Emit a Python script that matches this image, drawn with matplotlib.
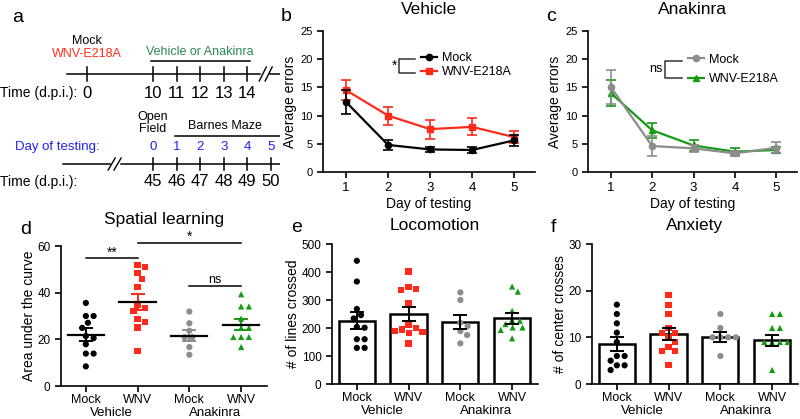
import numpy as np
import matplotlib
matplotlib.use('Agg')
import matplotlib.pyplot as plt
from matplotlib.lines import Line2D

plt.rcParams['font.family'] = ['Liberation Sans', 'DejaVu Sans']

RED = '#ff2a1a'
GREEN = '#149a14'
GRAY = '#8c8c8c'
BLUE = '#2020f0'
TEAL = '#2a8a55'

# ---- panel a: timeline
tl1_labels = ['0', '10', '11', '12', '13', '14']
tl1_slots = [-2.8, 0, 1, 2, 3, 4]
tl2_labels = ['45', '46', '47', '48', '49', '50']
test_labels = ['0', '1', '2', '3', '4', '5']

# ---- panels b / c: Barnes maze errors
days = [1, 2, 3, 4, 5]
veh_mock = [12.4, 4.8, 4.0, 3.9, 5.6]
veh_mock_sem = [2.2, 0.9, 0.5, 0.6, 1.0]
veh_wnv = [14.5, 10.0, 7.6, 8.0, 6.2]
veh_wnv_sem = [1.8, 1.6, 1.7, 1.5, 1.0]
ana_mock = [15.1, 4.6, 4.2, 3.3, 4.3]
ana_mock_sem = [3.0, 1.8, 0.6, 0.4, 1.0]
ana_wnv = [14.0, 7.4, 4.7, 3.6, 3.9]
ana_wnv_sem = [2.3, 1.3, 0.9, 0.6, 0.5]

# ---- panels d / e / f
cat_labels = ['Mock', 'WNV', 'Mock', 'WNV']
group_labels = ['Vehicle', 'Anakinra']

auc = [
    [35.6, 30.0, 30.0, 27.1, 24.9, 21.4, 20.5, 17.9, 13.9, 13.9, 8.4],
    [51.9, 51.1, 48.3, 45.7, 42.3, 34.6, 33.4, 32.0, 28.6, 27.4, 25.1, 15.1],
    [31.9, 26.9, 23.7, 20.9, 20.9, 16.7, 13.4],
    [39.3, 34.1, 34.1, 28.9, 24.9, 24.9, 21.0, 21.0, 21.0, 16.7],
]
auc_mean = [22.0, 36.0, 21.6, 26.3]
auc_sem = [2.7, 3.3, 2.4, 2.5]

lines = [
    [440, 366, 268, 246, 234, 204, 201, 160, 160, 129, 129],
    [402, 346, 338, 336, 288, 210, 201, 195, 189, 187, 181, 145],
    [327, 300, 219, 207, 189, 175, 145],
    [348, 330, 261, 228, 226, 214, 202, 202, 193, 163],
]
lines_mean = [226, 250, 223, 235]
lines_sem = [31, 25, 25, 20]

center = [
    [17, 15, 13, 11, 9, 6, 6, 5, 4, 4, 3],
    [19, 17, 15, 12, 11, 11, 10, 9, 8, 7, 7, 4],
    [15, 12, 10, 10, 10, 10, 6],
    [15, 15, 12, 12, 9, 9, 9, 9, 3],
]
center_mean = [8.6, 10.7, 10.1, 9.4]
center_sem = [1.5, 1.3, 1.1, 1.2]

colors = ['black', RED, GRAY, GREEN]
markers = ['o', 's', 'o', '^']


def swarm(values, dx, dy):
    """Simple beeswarm offsets so markers do not overlap."""
    placed = []
    offs = np.zeros(len(values))
    order = np.argsort(values)[::-1]
    cand = np.arange(0, 1.0, 0.01)
    cand = np.concatenate([[0]] + [[c, -c] for c in cand[1:]])
    for i in order:
        v = values[i]
        for c in cand:
            ok = True
            for (o, w) in placed:
                if ((c - o) / dx) ** 2 + ((v - w) / dy) ** 2 < 1:
                    ok = False
                    break
            if ok:
                offs[i] = c
                placed.append((c, v))
                break
    return offs


def style_axes(ax):
    for s in ['top', 'right']:
        ax.spines[s].set_visible(False)
    for s in ['left', 'bottom']:
        ax.spines[s].set_linewidth(1.2)
    ax.tick_params(width=1.2, length=4, labelsize=8.5)


fig = plt.figure(figsize=(8, 4.19), dpi=100)

# ---------------- panel a ----------------
axa = fig.add_axes([0, 1 - 200 / 419, 280 / 800, 200 / 419])
axa.set_xlim(-6.48, 5.38)
axa.set_ylim(200, 0)
axa.axis('off')
axa.text(-5.75, 17, 'a', fontsize=14, va='center', ha='center')
axa.text(-2.8, 41, 'Mock', fontsize=9, ha='center', va='center')
axa.text(-2.8, 54, 'WNV-E218A', fontsize=9, ha='center', va='center', color=RED)
axa.text(2.0, 52, 'Vehicle or Anakinra', fontsize=9, ha='center', va='center', color=TEAL)
axa.plot([-0.1, 4.1], [61, 61], color='black', lw=1.1)
axa.plot([-3.64, 4.55], [74, 74], color='black', lw=1.1)
axa.plot([4.95, 5.38], [74, 74], color='black', lw=1.1)
for x0 in [4.5, 4.75]:
    axa.plot([x0, x0 + 0.3], [81, 67], color='black', lw=1.0)
for s, lab in zip(tl1_slots, tl1_labels):
    axa.plot([s, s], [67, 81], color='black', lw=1.1)
    axa.text(s, 93, lab, fontsize=12, ha='center', va='center')
axa.text(-6.48, 93, 'Time (d.p.i.):', fontsize=10, ha='left', va='center')

axa.text(0, 123, 'Open\nField', fontsize=9, ha='center', va='center', linespacing=1.1)
axa.text(3.05, 126, 'Barnes Maze', fontsize=9, ha='center', va='center')
axa.plot([0.93, 5.38], [136, 136], color='black', lw=1.1)
axa.text(-5.85, 147, 'Day of testing:', fontsize=9.5, ha='left', va='center', color=BLUE)
axa.plot([-3.81, -1.8], [164, 164], color='black', lw=1.1)
axa.plot([-1.35, 5.38], [164, 164], color='black', lw=1.1)
for x0 in [-1.9, -1.65]:
    axa.plot([x0, x0 + 0.3], [170, 158], color='black', lw=1.0)
for i, (lab, tl) in enumerate(zip(tl2_labels, test_labels)):
    axa.plot([i, i], [158, 170], color='black', lw=1.1)
    axa.text(i, 182, lab, fontsize=12, ha='center', va='center')
    axa.text(i, 147, tl, fontsize=9.5, ha='center', va='center', color=BLUE)
axa.text(-6.48, 182, 'Time (d.p.i.):', fontsize=10, ha='left', va='center')


# ---------------- panels b, c ----------------
def line_panel(rect, title, letter, s1, e1, s2, e2, c1, c2, m1, m2, sig,
               lx, ly, lsp, bx, bx2, by):
    ax = fig.add_axes(rect)
    ax.errorbar(days, s1, yerr=e1, color=c1, marker=m1, ms=4.5, lw=1.6,
                capsize=3.5, elinewidth=1.2, capthick=1.2, zorder=3)
    ax.errorbar(days, s2, yerr=e2, color=c2, marker=m2, ms=4.5, lw=1.6,
                capsize=3.5, elinewidth=1.2, capthick=1.2, zorder=2)
    ax.set_xlim(0.45, 5.5)
    ax.set_ylim(0, 25)
    ax.set_xticks(days)
    ax.set_yticks([0, 5, 10, 15, 20, 25])
    style_axes(ax)
    ax.tick_params(axis='x', labelsize=9.5)
    ax.tick_params(axis='y', labelsize=8)
    ax.set_xlabel('Day of testing', fontsize=10, labelpad=2)
    ax.set_ylabel('Average errors', fontsize=10, labelpad=2)
    ax.set_title(title, fontsize=12.5, pad=12)
    ax.text(-0.2, 1.1, letter, transform=ax.transAxes, fontsize=14, va='center')
    h = [Line2D([], [], color=c1, marker=m1, ms=4.5, lw=1.6),
         Line2D([], [], color=c2, marker=m2, ms=4.5, lw=1.6)]
    ax.legend(h, ['Mock', 'WNV-E218A'], loc='upper left', bbox_to_anchor=(lx, ly),
              frameon=False, fontsize=9, handlelength=1.3, handletextpad=0.4,
              labelspacing=lsp, borderpad=0, borderaxespad=0)
    ax.plot([bx2, bx, bx, bx2], [by[0], by[0], by[1], by[1]],
            transform=ax.transAxes, color='#333333', lw=1.1)
    ax.text(bx - 0.01, (by[0] + by[1]) / 2, sig, transform=ax.transAxes,
            ha='right', va='center', fontsize=10 if sig == '*' else 9)
    return ax


line_panel([323 / 800, 1 - 172 / 419, 212 / 800, 141 / 419], 'Vehicle', 'b',
           veh_mock, veh_mock_sem, veh_wnv, veh_wnv_sem, 'black', RED, 'o', 's',
           '*', 0.462, 0.85, 0.18, 0.358, 0.434, (0.80, 0.70))
line_panel([588 / 800, 1 - 172 / 419, 209 / 800, 141 / 419], 'Anakinra', 'c',
           ana_mock, ana_mock_sem, ana_wnv, ana_wnv_sem, GRAY, GREEN, 'o', '^',
           'ns', 0.478, 0.84, 0.6, 0.368, 0.45, (0.79, 0.67))


# ---------------- panels d, e, f ----------------
def group_panel(rect, title, letter, ylabel, data, means, sems, ymax, ystep, dy, bars,
                tpad=10):
    ax = fig.add_axes(rect)
    pos = np.arange(4)
    if bars:
        ax.bar(pos, means, width=0.7, facecolor='white', edgecolor='black', lw=1.8, zorder=1)
    for i in range(4):
        offs = swarm(np.array(data[i], dtype=float), 0.15, dy)
        ax.scatter(pos[i] + offs, data[i], s=20, marker=markers[i], color=colors[i],
                   edgecolor='none', zorder=3)
        ecol = 'black' if bars else colors[i]
        ax.errorbar(pos[i], means[i], yerr=sems[i], color=ecol, capsize=5,
                    elinewidth=1.4, capthick=1.4, fmt='none', zorder=4)
        if not bars:
            ax.plot([pos[i] - 0.35, pos[i] + 0.35], [means[i], means[i]], color='black',
                    lw=1.6, zorder=4)
    ax.set_xlim(-0.48, 3.5)
    ax.set_ylim(0, ymax)
    ax.set_yticks(np.arange(0, ymax + 1, ystep))
    ax.set_xticks(pos)
    ax.set_xticklabels(cat_labels, fontsize=9)
    style_axes(ax)
    ax.tick_params(axis='x', labelsize=9, pad=2)
    ax.set_ylabel(ylabel, fontsize=10, labelpad=1)
    ax.set_title(title, fontsize=12.5, pad=tpad)
    ax.text(-0.2, 1.12, letter, transform=ax.transAxes, fontsize=14, va='center')
    for gx, g in zip([0.5, 2.5], group_labels):
        ax.text(gx, -0.19, g, transform=ax.get_xaxis_transform(), fontsize=9.5,
                ha='center', va='center')
    return ax


axd = group_panel([61 / 800, 1 - 386 / 419, 206 / 800, 140 / 419], 'Spatial learning', 'd',
                  'Area under the curve', auc, auc_mean, auc_sem, 60, 20, 3.0, False,
                  tpad=16)
axd.plot([0, 1], [55, 55], color='black', lw=1.1, clip_on=False)
axd.text(0.5, 57, '**', ha='center', va='center', fontsize=10)
axd.plot([1, 3], [61.3, 61.3], color='black', lw=1.1, clip_on=False)
axd.text(2, 64, '*', ha='center', va='center', fontsize=10)
axd.plot([2, 3], [43, 43], color='black', lw=1.1)
axd.text(2.5, 45.5, 'ns', ha='center', va='center', fontsize=9)

group_panel([332 / 800, 1 - 384 / 419, 206 / 800, 140 / 419], 'Locomotion', 'e',
            '# of lines crossed', lines, lines_mean, lines_sem, 500, 100, 25, True)
group_panel([592 / 800, 1 - 384 / 419, 206 / 800, 140 / 419], 'Anxiety', 'f',
            '# of center crosses', center, center_mean, center_sem, 30, 10, 1.5, True)

fig.savefig('out.png', dpi=100)
